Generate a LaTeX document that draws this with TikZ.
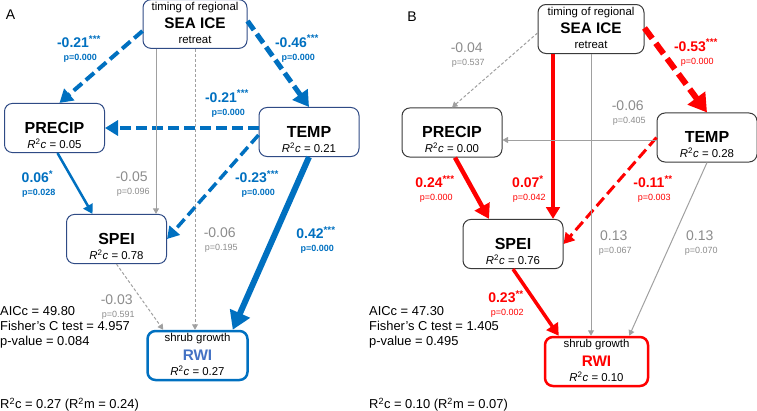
\documentclass[tikz,border=0pt]{standalone}
\usepackage{fontspec}
\setmainfont{Liberation Sans}
\usetikzlibrary{arrows.meta}

\definecolor{sigblue}{HTML}{0070C0}
\definecolor{rwiblue}{HTML}{4472C4}
\definecolor{boxnavy}{HTML}{2F4B85}
\definecolor{boxgrey}{HTML}{3A3A3A}
\definecolor{sigred}{HTML}{FF0000}
\definecolor{nsgrey}{HTML}{A0A0A0}
\definecolor{nstext}{HTML}{8C8C8C}

\tikzset{
	varbox/.style={draw, rounded corners=8pt, align=center, minimum width=100pt, minimum height=49pt, inner sep=0pt, line width=1pt, font=\fontsize{11.4}{15}\selectfont},
	effect/.style={-{Triangle[length=3pt 2.5, width=3pt 3]}},
	sigA/.style={effect, sigblue},
	sigB/.style={effect, sigred},
	nsline/.style={effect, nsgrey, line width=1pt},
	nsdash/.style={nsline, dash pattern=on 3pt off 2pt},
	bigdash/.style={dash pattern=on 11pt off 5pt},
	coefA/.style={text=sigblue, font=\fontsize{14}{13}\selectfont\bfseries, align=center, inner sep=0pt},
	coefB/.style={text=sigred, font=\fontsize{14}{13}\selectfont\bfseries, align=center, inner sep=0pt},
	coefns/.style={text=nstext, font=\fontsize{14}{13}\selectfont, align=center, inner sep=0pt},
	fitstat/.style={anchor=base west, align=left, inner sep=0pt, font=\fontsize{12.9}{15}\selectfont}
}

\newcommand{\boxtext}[4][16]{\strut#2\\[2.5pt]{\fontsize{#1}{15}\selectfont\bfseries #3}\\#4\strut}
\newcommand{\rsq}[1]{\textit{R}\textsuperscript{2}\textit{c} = #1}
\newcommand{\coef}[4][\bfseries]{#2\textsuperscript{#3}\\{\fontsize{9}{9}\selectfont#1 p=#4}}

\begin{document}
\begin{tikzpicture}[x=1pt, y=-1pt]
	\useasboundingbox (0,0) rectangle (757,410);

	% ---------------- Panel A ----------------
	\node[font=\fontsize{14}{14}\selectfont] (panelA) at (10.5,15) {A};

	% Boxes
	\node[varbox, draw=boxnavy, minimum width=104pt, minimum height=46pt] (seaA) at (195,24) {\boxtext[15.3]{timing of regional}{SEA ICE}{retreat}};
	\node[varbox, draw=boxnavy] (precipA) at (54.5,128) {\boxtext{}{PRECIP}{\rsq{0.05}}};
	\node[varbox, draw=boxnavy] (tempA) at (309,132) {\boxtext{}{TEMP}{\rsq{0.21}}};
	\node[varbox, draw=boxnavy] (speiA) at (116.5,239) {\boxtext{}{SPEI}{\rsq{0.78}}};
	\node[varbox, draw=sigblue, line width=2.5pt] (rwiA) at (197.5,355.5) {\boxtext[15.3]{shrub growth}{\textcolor{rwiblue}{RWI}}{\rsq{0.27}}};

	% Significant paths
	\draw[sigA, line width=4pt, bigdash] ([yshift=-7pt]seaA.west) -- ([xshift=5pt]precipA.north);
	\draw[sigA, line width=5pt, bigdash] ([yshift=3pt]seaA.east) -- (tempA.north);
	\draw[sigA, line width=4pt, bigdash] (tempA.west |- precipA.east) -- (precipA.east);
	\draw[sigA, line width=3.5pt, bigdash] ([yshift=-3pt]tempA.west) -- (speiA.east);
	\draw[sigA, line width=2.5pt] ([xshift=3pt]precipA.south) -- ([xshift=-24pt]speiA.north);
	\draw[sigA, line width=6pt] (tempA.south) -- ([xshift=-16pt]rwiA.north east);

	% Non-significant paths
	\draw[nsline] ([xshift=-39pt]seaA.south) -- ([xshift=-39pt]seaA.south |- speiA.north);
	\draw[nsdash] (seaA.south) -- (seaA.south |- rwiA.north);
	\draw[nsdash] (speiA.south) -- ([xshift=17pt]rwiA.north west);

	% Coefficients
	\node[coefA] (cA1) at (79,49) {\coef{-0.21}{***}{0.000}};
	\node[coefA] (cA2) at (297,48.5) {\coef{-0.46}{***}{0.000}};
	\node[coefA] (cA3) at (227,103.5) {\coef{-0.21}{***}{0.000}};
	\node[coefns] (cA4) at (132,184.5) {\coef[\mdseries]{-0.05}{}{0.096}};
	\node[coefA] (cA5) at (37.5,184) {\coef{0.06}{*}{0.028}};
	\node[coefA] (cA6) at (257,184) {\coef{-0.23}{***}{0.000}};
	\node[coefns] (cA7) at (220,240.5) {\coef[\mdseries]{-0.06}{}{0.195}};
	\node[coefA] (cA8) at (316,240) {\coef{0.42}{***}{0.000}};
	\node[coefns] (cA9) at (117,307.5) {\coef[\mdseries]{-0.03}{}{0.591}};

	% Model fit
	\node[fitstat] (fitA) at (0,345.6) {AICc = 49.80\\Fisher’s C test = 4.957\\p-value = 0.084};
	\node[fitstat] (rsqA) at (0,408.5) {R\textsuperscript{2}c = 0.27 (R\textsuperscript{2}m = 0.24)};

	% ---------------- Panel B ----------------
	\node[font=\fontsize{14}{14}\selectfont] (panelB) at (412,17) {B};

	% Boxes
	\node[varbox, draw=boxgrey, minimum width=106pt] (seaB) at (591,29) {\boxtext[15.3]{timing of regional}{SEA ICE}{retreat}};
	\node[varbox, draw=boxgrey] (precipB) at (452,132.5) {\boxtext{}{PRECIP}{\rsq{0.00}}};
	\node[varbox, draw=boxgrey] (tempB) at (707,137.5) {\boxtext{}{TEMP}{\rsq{0.28}}};
	\node[varbox, draw=boxgrey] (speiB) at (513,244) {\boxtext{}{SPEI}{\rsq{0.76}}};
	\node[varbox, draw=sigred, line width=2.5pt, minimum width=103pt] (rwiB) at (596.5,361.5) {\boxtext[15.3]{shrub growth}{\textcolor{sigred}{RWI}}{\rsq{0.10}}};

	% Significant paths
	\draw[sigB, line width=6pt, dash pattern=on 13pt off 6pt] ([yshift=1pt]seaB.east) -- (tempB.north);
	\draw[sigB, line width=3.5pt] ([xshift=-38pt]seaB.south) -- ([xshift=-38pt]seaB.south |- speiB.north);
	\draw[sigB, line width=4.5pt] ([xshift=3pt]precipB.south) -- ([xshift=-24pt]speiB.north);
	\draw[sigB, line width=3pt, bigdash] (tempB.west) -- (speiB.east);
	\draw[sigB, line width=3.5pt] (speiB.south) -- ([xshift=15pt]rwiB.north west);

	% Non-significant paths
	\draw[nsdash] ([yshift=-4pt]seaB.west) -- (precipB.north);
	\draw[nsline] ([yshift=-2.5pt]tempB.west) -- ([yshift=-2.5pt]tempB.west -| precipB.east);
	\draw[nsline] (seaB.south) -- (seaB.south |- rwiB.north);
	\draw[nsline] (tempB.south) -- ([xshift=-20pt]rwiB.north east);

	% Coefficients
	\node[coefns] (cB1) at (467,55) {\coef[\mdseries]{-0.04}{}{0.537}};
	\node[coefB] (cB2) at (696,52.5) {\coef[\mdseries]{-0.53}{***}{0.000}};
	\node[coefns] (cB3) at (628,113.5) {\coef[\mdseries]{-0.06}{}{0.405}};
	\node[coefB] (cB4) at (528,189) {\coef[\mdseries]{0.07}{*}{0.042}};
	\node[coefns] (cB5) at (614,243) {\coef[\mdseries]{0.13}{}{0.067}};
	\node[coefB] (cB6) at (435,189) {\coef[\mdseries]{0.24}{***}{0.000}};
	\node[coefB] (cB7) at (653,189) {\coef[\mdseries]{-0.11}{**}{0.003}};
	\node[coefns] (cB8) at (700,243) {\coef[\mdseries]{0.13}{}{0.070}};
	\node[coefB] (cB9) at (506,304) {\coef[\mdseries]{0.23}{**}{0.002}};

	% Model fit
	\node[fitstat] (fitB) at (369,345.6) {AICc = 47.30\\Fisher’s C test = 1.405\\p-value = 0.495};
	\node[fitstat] (rsqB) at (369,408.5) {R\textsuperscript{2}c = 0.10 (R\textsuperscript{2}m = 0.07)};
\end{tikzpicture}
\end{document}
